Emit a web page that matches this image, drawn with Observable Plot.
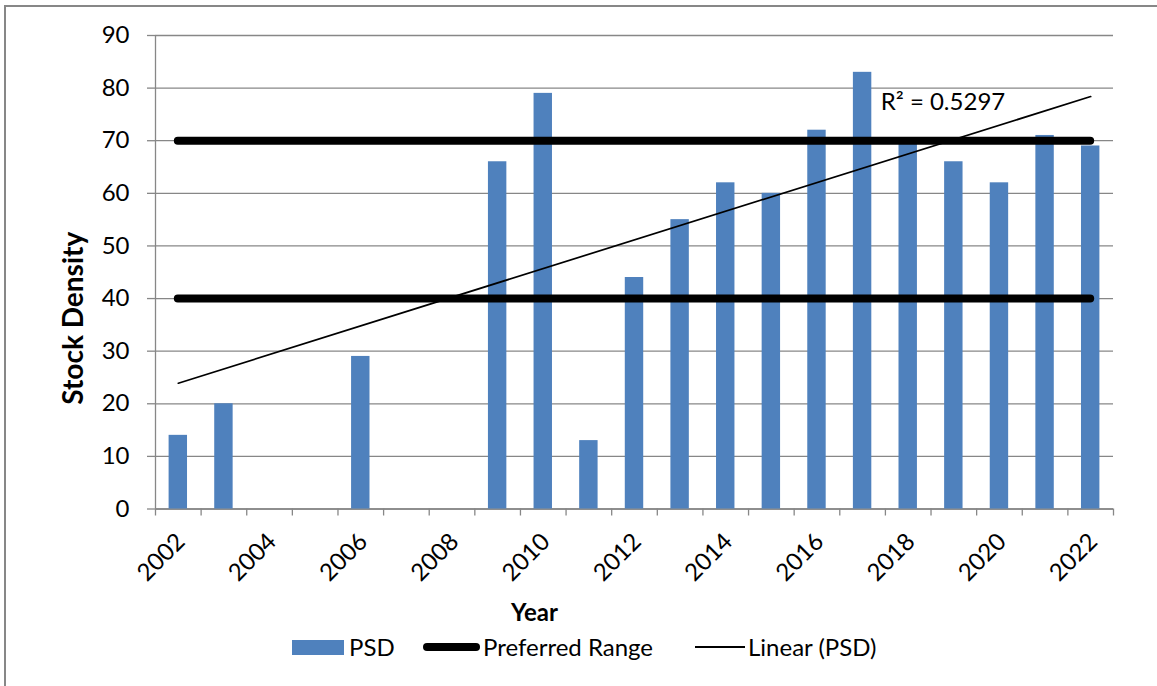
<!DOCTYPE html>
<html><head><meta charset="utf-8">
<script src="https://cdn.jsdelivr.net/npm/d3@7"></script>
<script src="https://cdn.jsdelivr.net/npm/@observablehq/plot@0.6"></script>
<style>
body{margin:0;background:#fff;font-family:Lato, sans-serif;}
#wrap{position:relative;width:1157px;height:686px;overflow:hidden;background:#fff;}
#chart{position:absolute;left:0;top:0;}
#border{position:absolute;left:4px;top:5px;width:1200px;height:700px;border-left:2px solid #878787;border-top:2px solid #878787;pointer-events:none;}
#legend{position:absolute;left:0;top:625px;width:1157px;height:61px;font-size:24px;color:#000;}
#legend .item{position:absolute;}
#legend .lbl{position:absolute;top:6px;height:32px;line-height:32px;white-space:nowrap;}
</style></head><body>
<div id="wrap"><div id="chart"></div><div id="legend"></div><div id="border"></div></div>
<script>
// ---- data ----
const years = [2002,2003,2004,2005,2006,2007,2008,2009,2010,2011,2012,2013,2014,2015,2016,2017,2018,2019,2020,2021,2022];
const psd   = [14,20,null,null,29,null,null,66,79,13,44,55,62,60,72,83,70,66,62,71,69];
const preferredRange = [40,70];
const yTicks = [0,10,20,30,40,50,60,70,80,90];
const xLabelYears = [2002,2004,2006,2008,2010,2012,2014,2016,2018,2020,2022];
const seriesNames = ["PSD","Preferred Range","Linear (PSD)"];
const yLabel = "Stock Density";
const xLabel = "Year";

// ---- derived ----
const data = years.map((year,i)=>({year, psd: psd[i]})).filter(d=>d.psd!=null);
const first = years[0], last = years[years.length-1];
const boundaries = years.map(y=>y-0.5).concat([last+0.5]);
const mx = d3.mean(data,d=>d.year), my = d3.mean(data,d=>d.psd);
const sxy = d3.sum(data,d=>(d.year-mx)*(d.psd-my));
const sxx = d3.sum(data,d=>(d.year-mx)**2);
const syy = d3.sum(data,d=>(d.psd-my)**2);
const slope = sxy/sxx, intercept = my - slope*mx;
const r2 = sxy*sxy/(sxx*syy);

const gray = "#878787";
const blue = "#4F81BD";
const W = 1157, H = 625, plotBottom = 508.5;

const chart = Plot.plot({
  width: W, height: H,
  marginLeft: 155, marginRight: 44, marginTop: 35, marginBottom: H - plotBottom,
  style: {fontFamily: "Lato, sans-serif", fontSize: "24px", color: "#000", background: "#fff"},
  x: {domain: [first-0.5, last+0.5]},
  y: {domain: [0, 90]},
  marks: [
    Plot.gridY(yTicks, {stroke: gray, strokeOpacity: 1, strokeWidth: 1.3}),
    Plot.ruleX([first-0.5], {stroke: gray, strokeWidth: 1.3}),
    Plot.ruleY([0], {stroke: gray, strokeWidth: 1.3}),
    Plot.axisY(yTicks, {tickSize: 8, tickPadding: 18, stroke: gray, strokeWidth: 1.3, fill: "#000", fontSize: 24, label: null}),
    Plot.axisX(boundaries, {tickSize: 7, tickFormat: () => "", stroke: gray, strokeWidth: 1.3, label: null}),
    Plot.axisX(xLabelYears, {tickSize: 0, tickPadding: 22, tickRotate: -45, textAnchor: "end", lineAnchor: "top", dx: -4, fontSize: 24, fill: "#000", label: null, tickFormat: d => String(d)}),
    Plot.rectY(data, {x1: d => d.year-0.5, x2: d => d.year+0.5, y: "psd", fill: blue, insetLeft: 13.6, insetRight: 13.6}),
    Plot.ruleY(preferredRange, {y: d => d, x1: d => first, x2: d => last, stroke: "#000", strokeWidth: 8, strokeLinecap: "round"}),
    Plot.linearRegressionY(data, {x: "year", y: "psd", stroke: "#000", strokeWidth: 1.7, ci: 0}),
    Plot.text([r2], {x: d => last, y: d => intercept + slope*last, text: d => `R² = ${d.toFixed(4)}`, textAnchor: "start", dx: -210, dy: 6, fontSize: 24, fill: "#000"}),
    Plot.text([yLabel], {text: d => d, frameAnchor: "left", textAnchor: "middle", lineAnchor: "middle", rotate: -90, dx: -81, dy: 46, fontWeight: "bold", fontSize: 28, fill: "#000"}),
    Plot.text([xLabel], {text: d => d, frameAnchor: "bottom", textAnchor: "middle", lineAnchor: "middle", dx: -100, dy: 104, fontWeight: "bold", fontSize: 24, fill: "#000"})
  ]
});
document.getElementById("chart").appendChild(chart);

// ---- legend ----
const leg = document.getElementById("legend");
leg.innerHTML = `
  <div class="item" style="left:292px;top:15px;width:52px;height:15px;background:${blue}"></div>
  <div class="lbl" style="left:349px">${seriesNames[0]}</div>
  <div class="item" style="left:423px;top:18px;width:57px;height:8px;border-radius:4px;background:#000"></div>
  <div class="lbl" style="left:483px">${seriesNames[1]}</div>
  <div class="item" style="left:695px;top:21px;width:50px;height:1.7px;background:#000"></div>
  <div class="lbl" style="left:748px">${seriesNames[2]}</div>
`;
</script>
</body></html>
